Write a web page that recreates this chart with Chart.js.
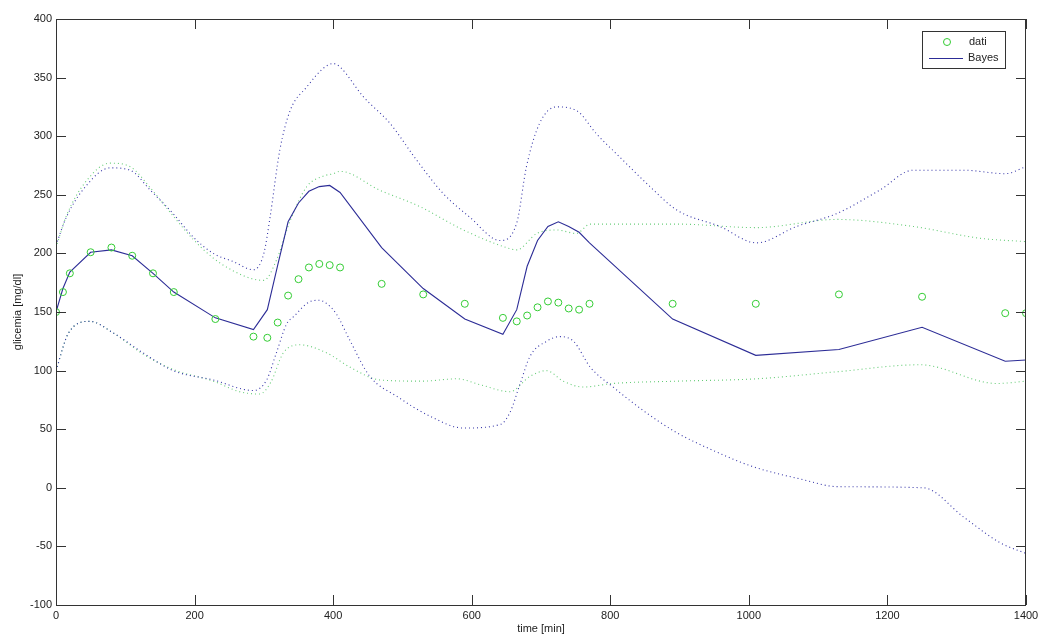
<!DOCTYPE html>
<html>
<head>
<meta charset="utf-8">
<script src="https://cdn.jsdelivr.net/npm/chart.js@4/dist/chart.umd.min.js"></script>
<style>
  html, body { margin: 0; padding: 0; background: #ffffff; }
  #wrap { width: 1039px; height: 637px; }
</style>
</head>
<body>
<div id="wrap"><canvas id="c" width="1039" height="637"></canvas></div>
<script>
// ---- data ----
const dataT = [0,10,20,50,80,110,140,170,230,285,305,320,335,350,365,380,395,410,470,530,590,645,665,680,695,710,725,740,755,770,890,1010,1130,1250,1370,1400];
const dataV = [150,167,183,201,205,198,183,167,144,129,128,141,164,178,188,191,190,188,174,165,157,145,142,147,154,159,158,153,152,157,157,157,165,163,149,149];

const bayesT = [0,10,20,50,80,110,140,170,230,285,305,320,335,350,365,380,395,410,470,530,590,645,665,680,695,710,725,740,755,770,890,1010,1130,1250,1370,1400];
const bayesV = [150,170,184,201,203,198,183,167,145,135,152,190,227,243,253,257,258,252,205,170,144,131,152,189,211,223,227,223,218,209,144,113,118,137,108,109];

const blueUpT = [0,15,44,78,107,136,169,198,227,256,285,300,309,323,338,362,386,400,410,443,482,520,559,597,641,665,679,698,722,751,780,814,852,896,958,1011,1069,1127,1189,1237,1310,1370,1400];
const blueUpV = [207,231,258,273,271,254,234,214,200,193,186,200,231,288,322,342,358,362,359,334,311,280,251,231,211,226,274,311,325,322,302,282,260,237,223,209,223,234,254,271,271,268,274];

const greenUpT = [0,15,44,78,107,136,169,198,227,256,285,300,318,338,362,386,400,410,467,525,588,645,665,694,723,751,771,896,1011,1127,1237,1333,1400];
const greenUpV = [205,232,262,277,274,256,232,212,196,185,178,177,194,228,257,266,268,270,254,240,220,206,203,217,220,217,225,225,222,229,223,213,210];

const blueLoT = [0,18,49,83,126,169,227,285,304,318,333,343,367,380,395,405,424,453,492,540,588,641,655,670,684,708,727,747,771,804,852,896,948,1006,1078,1127,1252,1310,1363,1400];
const blueLoV = [100,132,142,132,115,100,92,83,92,115,140,146,159,160,155,148,126,95,78,61,51,54,64,89,112,125,129,125,103,86,64,47,32,18,7,1,0,-25,-47,-56];

const greenLoT = [0,18,49,83,126,169,227,265,294,310,328,352,391,424,468,530,578,612,655,684,708,732,761,804,896,1011,1127,1247,1358,1400];
const greenLoV = [100,132,142,132,114,101,91,82,80,90,115,122,115,103,92,91,93,88,82,95,100,91,86,89,91,93,99,105,89,91];

const xTicks = [0,200,400,600,800,1000,1200,1400];
const yTicks = [-100,-50,0,50,100,150,200,250,300,350,400];
const legendLabels = ['dati', 'Bayes'];
const xTitle = 'time [min]';
const yTitle = 'glicemia [mg/dl]';

// ---- build ----
const pts = (t, v) => t.map((x, i) => ({ x: x, y: v[i] }));
const BLUE = '#2c2c96';
const BLUE_DOT = '#3535a8';
const GREEN = '#33cc33';
const GREEN_DOT = '#66cc77';
const AXIS = '#333333';

Chart.defaults.font.family = '"Liberation Sans", Arial, Helvetica, sans-serif';
Chart.defaults.font.size = 11;
Chart.defaults.color = '#222222';

const dotted = (t, v, color) => ({
  data: pts(t, v), showLine: true, borderColor: color, borderWidth: 1.1,
  borderDash: [1, 3], pointRadius: 0, fill: false, cubicInterpolationMode: 'monotone'
});

const frame = {
  id: 'frame',
  afterDraw(chart) {
    const ctx = chart.ctx, a = chart.chartArea;
    const xs = chart.scales.x, ys = chart.scales.y;
    ctx.save();
    ctx.strokeStyle = AXIS;
    ctx.lineWidth = 1;
    ctx.strokeRect(Math.round(a.left) + 0.5, Math.round(a.top) + 0.5,
                   Math.round(a.right - a.left) - 1, Math.round(a.bottom - a.top));
    const L = 10;
    ctx.beginPath();
    xTicks.forEach(v => {
      const px = Math.round(xs.getPixelForValue(v)) + 0.5;
      ctx.moveTo(px, a.bottom); ctx.lineTo(px, a.bottom - L);
      ctx.moveTo(px, a.top); ctx.lineTo(px, a.top + L);
    });
    yTicks.forEach(v => {
      const py = Math.round(ys.getPixelForValue(v)) + 0.5;
      ctx.moveTo(a.left, py); ctx.lineTo(a.left + L, py);
      ctx.moveTo(a.right, py); ctx.lineTo(a.right - L, py);
    });
    ctx.stroke();

    // legend box
    const bx = a.right - 104, by = a.top + 12, bw = 83, bh = 37;
    ctx.fillStyle = '#ffffff';
    ctx.fillRect(bx, by, bw, bh);
    ctx.strokeStyle = AXIS;
    ctx.strokeRect(bx + 0.5, by + 0.5, bw, bh);
    ctx.strokeStyle = GREEN;
    ctx.beginPath();
    ctx.arc(bx + 25, by + 11, 3.5, 0, Math.PI * 2);
    ctx.stroke();
    ctx.strokeStyle = BLUE;
    ctx.beginPath();
    ctx.moveTo(bx + 7, by + 27.5); ctx.lineTo(bx + 41, by + 27.5);
    ctx.stroke();
    ctx.fillStyle = '#222222';
    ctx.font = '11px "Liberation Sans", Arial, sans-serif';
    ctx.textBaseline = 'middle';
    ctx.textAlign = 'left';
    ctx.fillText(legendLabels[0], bx + 47, by + 11);
    ctx.fillText(legendLabels[1], bx + 46, by + 27);
    ctx.restore();
  }
};

new Chart(document.getElementById('c'), {
  type: 'line',
  data: {
    datasets: [
      { label: legendLabels[0], data: pts(dataT, dataV), showLine: false,
        pointStyle: 'circle', pointRadius: 3.5, pointBorderWidth: 1,
        pointBorderColor: GREEN, pointBackgroundColor: 'rgba(0,0,0,0)',
        borderColor: GREEN, backgroundColor: 'rgba(0,0,0,0)' },
      { label: legendLabels[1], data: pts(bayesT, bayesV), showLine: true,
        borderColor: BLUE, borderWidth: 1.1, pointRadius: 0, tension: 0, fill: false },
      dotted(blueUpT, blueUpV, BLUE_DOT),
      dotted(blueLoT, blueLoV, BLUE_DOT),
      dotted(greenUpT, greenUpV, GREEN_DOT),
      dotted(greenLoT, greenLoV, GREEN_DOT)
    ]
  },
  options: {
    responsive: false,
    animation: false,
    devicePixelRatio: 1,
    layout: { padding: { top: 19, right: 13, left: 0, bottom: 0 } },
    plugins: { legend: { display: false }, tooltip: { enabled: false } },
    scales: {
      x: {
        type: 'linear', min: 0, max: 1400,
        afterBuildTicks: s => { s.ticks = xTicks.map(v => ({ value: v })); },
        afterFit: s => { s.height = 32; s.paddingRight = 0; s.paddingLeft = 0; },
        grid: { display: false, drawTicks: false },
        border: { display: false },
        ticks: { padding: 4, maxRotation: 0, autoSkip: false, color: '#222', callback: v => String(v) },
        title: { display: true, text: xTitle, padding: { top: 0, bottom: 1 }, color: '#222', font: { size: 11 } }
      },
      y: {
        type: 'linear', min: -100, max: 400,
        afterBuildTicks: s => { s.ticks = yTicks.map(v => ({ value: v })); },
        afterFit: s => { s.width = 56; },
        grid: { display: false, drawTicks: false },
        border: { display: false },
        ticks: { padding: 4, autoSkip: false, color: '#222', callback: v => String(v) },
        title: { display: true, text: yTitle, padding: { top: 11, bottom: 0 }, color: '#222', font: { size: 11 } }
      }
    }
  },
  plugins: [frame]
});
</script>
</body>
</html>
